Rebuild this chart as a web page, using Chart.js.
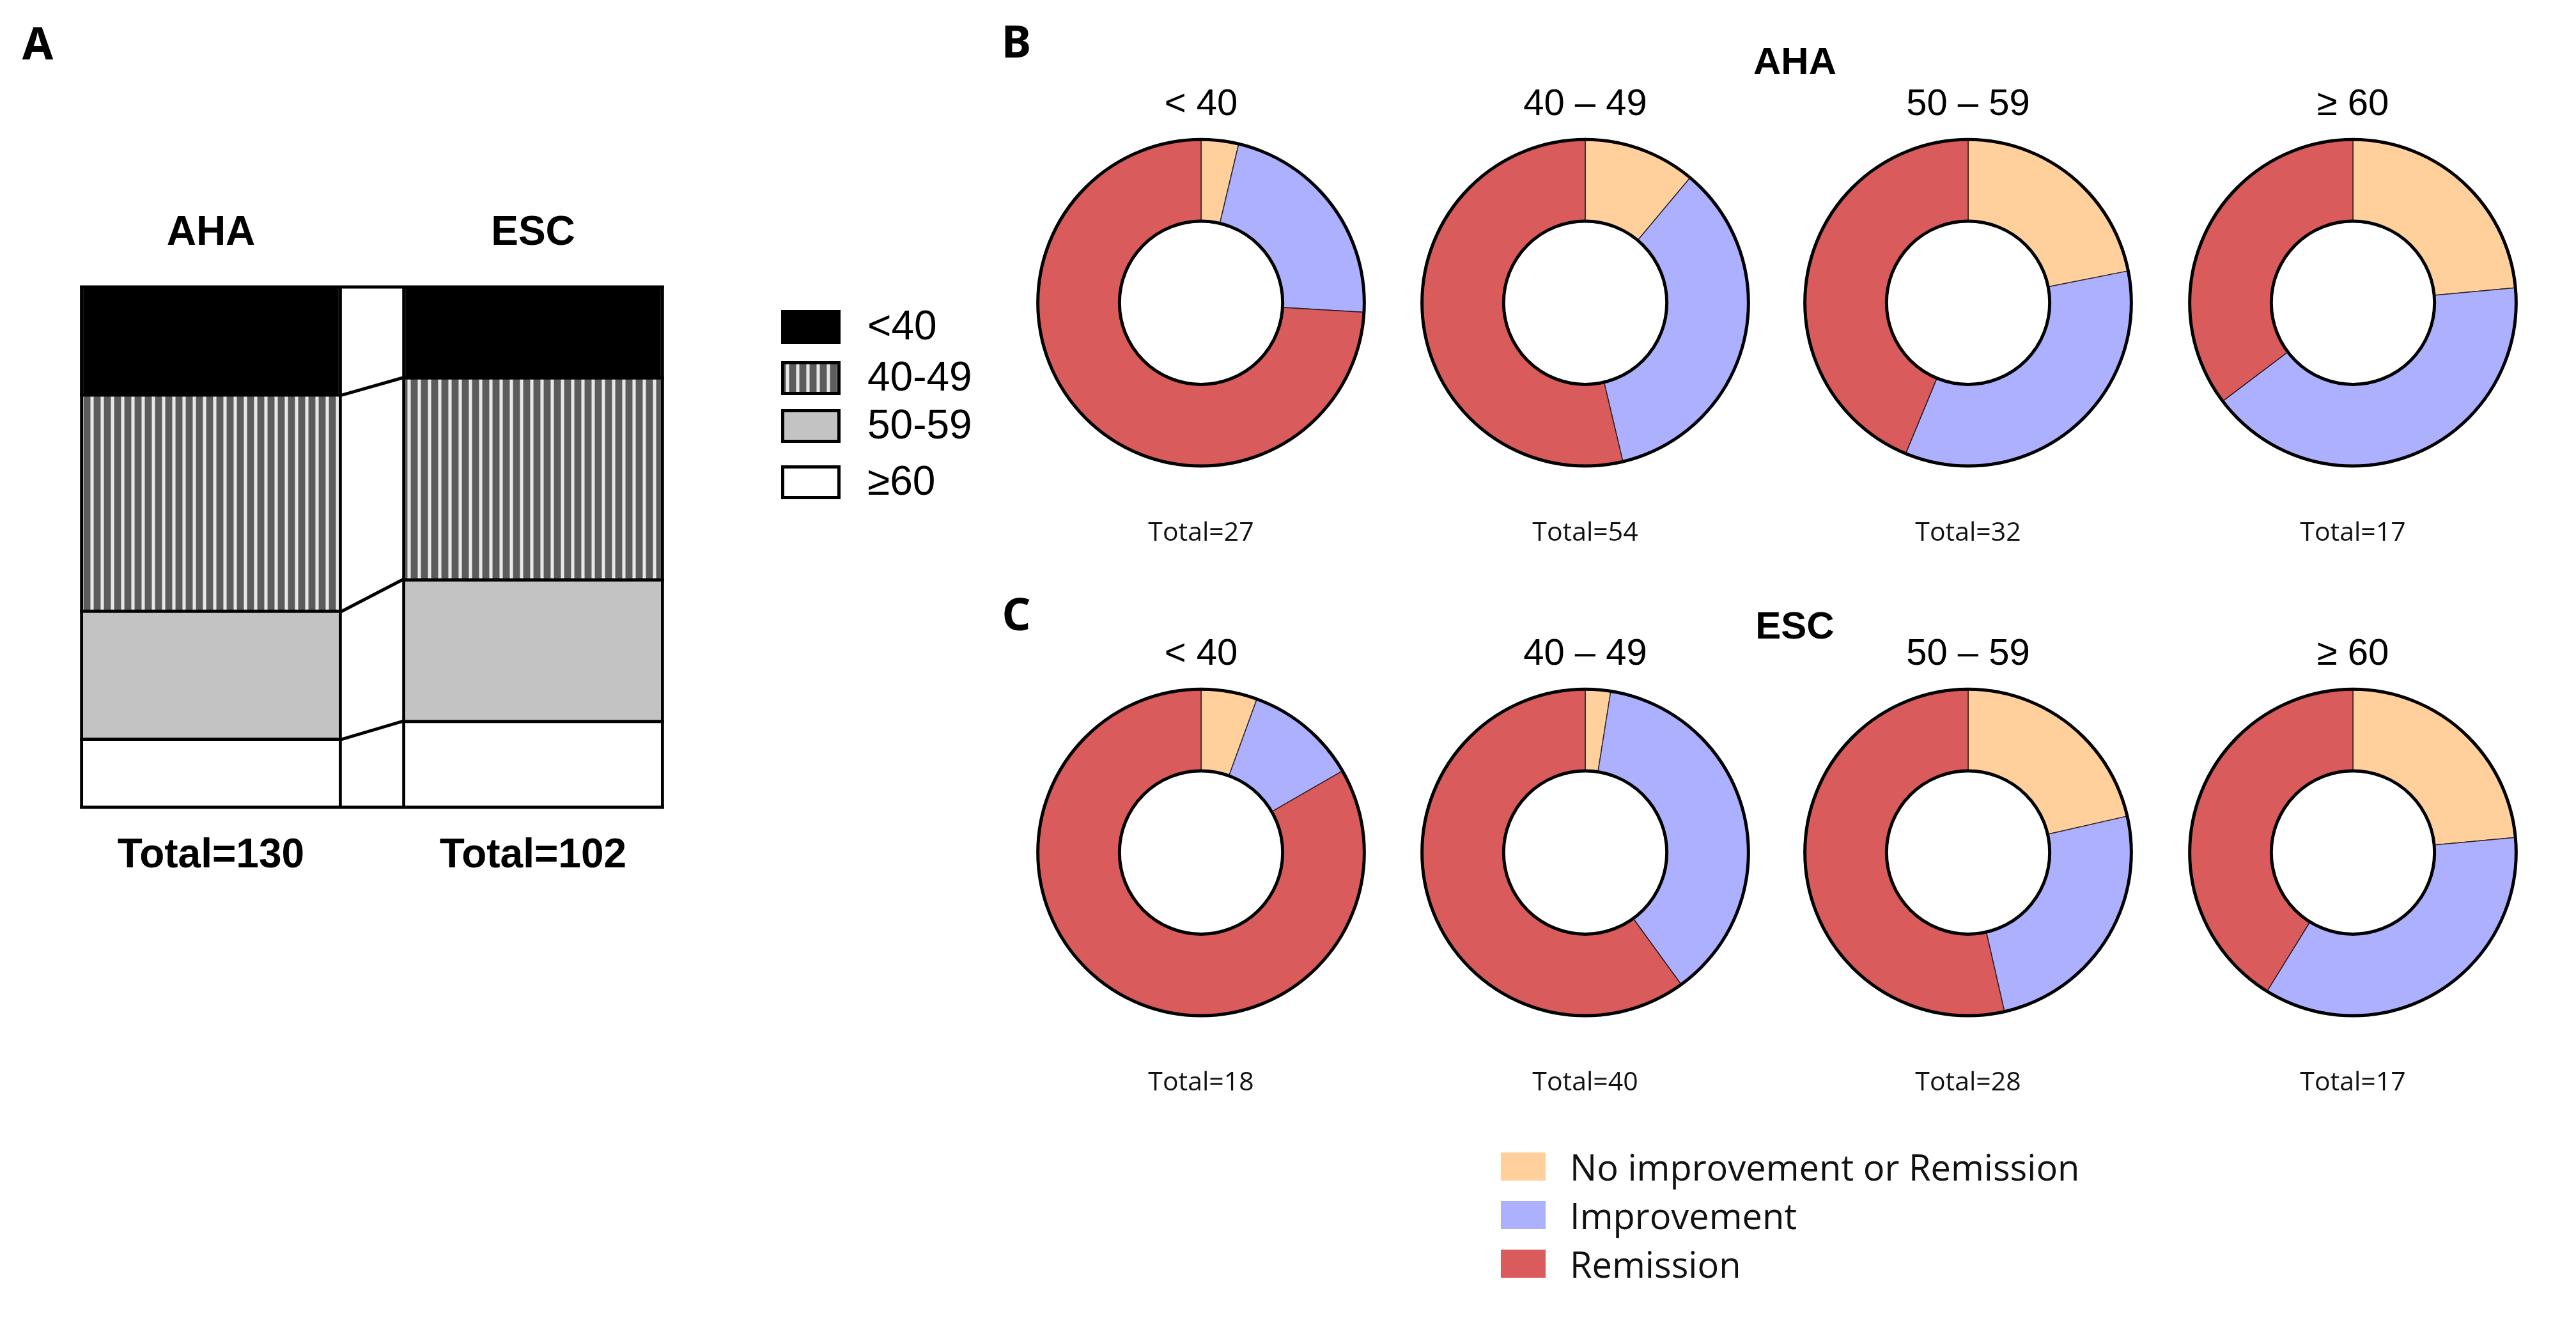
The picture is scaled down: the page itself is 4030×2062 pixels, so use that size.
<!DOCTYPE html>
<html>
<head>
<meta charset="utf-8">
<script src="https://cdn.jsdelivr.net/npm/chart.js@4.4.1/dist/chart.umd.min.js"></script>
<style>
  html, body { margin: 0; padding: 0; background: #fff; }
  #page { position: relative; width: 4030px; height: 2062px; background: #fff; overflow: hidden; }
  #page canvas { position: absolute; }
  .lbl { position: absolute; transform: translate(-50%, -50%); white-space: nowrap; color: #000; }
  .letter { font-family: 'Noto Sans'; font-weight: bold; font-size: 70px; }
  .head { font-family: 'Liberation Sans'; font-weight: bold; font-size: 60px; }
  #legend { position: absolute; left: 2348px; top: 1803px; font-family: 'Open Sans'; font-size: 56px; color: #111; }
  #legend .row { display: flex; align-items: center; height: 44px; margin-bottom: 32px; }
  #legend .sw { width: 70px; height: 44px; margin-right: 38px; }
  #legend span { line-height: 44px; }
</style>
</head>
<body>
<div id="page">
  <canvas id="panelA"></canvas>
  <canvas id="b0"></canvas><canvas id="b1"></canvas><canvas id="b2"></canvas><canvas id="b3"></canvas>
  <canvas id="c0"></canvas><canvas id="c1"></canvas><canvas id="c2"></canvas><canvas id="c3"></canvas>
  <div class="lbl letter" style="left:59px;top:66px">A</div>
  <div class="lbl letter" style="left:1590px;top:63px">B</div>
  <div class="lbl letter" style="left:1590px;top:959px">C</div>
  <div class="lbl head" style="left:2808px;top:95px">AHA</div>
  <div class="lbl head" style="left:2808px;top:978px">ESC</div>
  <div id="legend"></div>
</div>
<script>
// age groups
var groupTitles = ['< 40', '40 – 49', '50 – 59', '≥ 60'];
var groupShort = ['<40', '40-49', '50-59', '≥60'];

// panel A : patients per age group
var cohorts = ['AHA', 'ESC'];
var cohortTotals = [130, 102];
var ahaCounts = [27, 54, 32, 17];
var escCounts = [18, 40, 28, 17];

// outcome categories
var outcomes = ['No improvement or Remission', 'Improvement', 'Remission'];
var outcomeColors = ['#FFD09B', '#ACB0FF', '#D95B5B'];

// panel B (AHA) outcome counts per age group
var ahaNoImprovement = [1, 6, 7, 4];
var ahaImprovement = [6, 19, 11, 7];
var ahaRemission = [20, 29, 14, 6];

// panel C (ESC) outcome counts per age group
var escNoImprovement = [1, 1, 6, 4];
var escImprovement = [2, 15, 7, 6];
var escRemission = [15, 24, 15, 7];

function setupCanvas(id, left, top, w, h) {
  var c = document.getElementById(id);
  c.width = w; c.height = h;
  c.style.left = left + 'px'; c.style.top = top + 'px';
  c.style.width = w + 'px'; c.style.height = h + 'px';
  return c;
}

// vertical stripe fill for 40-49
function stripePattern() {
  var p = document.createElement('canvas');
  p.width = 16; p.height = 16;
  var g = p.getContext('2d');
  g.fillStyle = '#5c5c5c'; g.fillRect(0, 0, 16, 16);
  g.fillStyle = '#a8a8a8'; g.fillRect(5, 0, 1, 16); g.fillRect(10, 0, 1, 16);
  g.fillStyle = '#e8e8e8'; g.fillRect(6, 0, 4, 16);
  return document.getElementById('panelA').getContext('2d').createPattern(p, 'repeat');
}

// ---------- Panel A ----------
var canvasA = setupCanvas('panelA', 40, 300, 1560, 1100);
var groupFills = ['#000000', stripePattern(), '#c3c3c3', '#ffffff'];
var ahaSum = ahaCounts.reduce(function (a, b) { return a + b; }, 0);
var escSum = escCounts.reduce(function (a, b) { return a + b; }, 0);

var datasetsA = [];
for (var i = groupShort.length - 1; i >= 0; i--) {
  datasetsA.push({
    label: groupShort[i],
    data: [ahaCounts[i] / ahaSum * 100, escCounts[i] / escSum * 100],
    backgroundColor: groupFills[i],
    borderColor: '#000',
    borderWidth: { left: 5, right: 5, top: 0, bottom: 0 },
    borderSkipped: false,
    barPercentage: 0.813,
    categoryPercentage: 1
  });
}

var panelAExtras = {
  id: 'panelAExtras',
  afterDatasetsDraw: function (chart) {
    var ctx = chart.ctx;
    var n = chart.data.datasets.length;
    ctx.save();
    ctx.strokeStyle = '#000';
    ctx.lineWidth = 5;
    // segment boundaries, joined across the gap
    for (var d = -1; d < n; d++) {
      var meta = chart.getDatasetMeta(d < 0 ? 0 : d);
      var b0 = meta.data[0], b1 = meta.data[1];
      var y0 = d < 0 ? b0.base : b0.y;
      var y1 = d < 0 ? b1.base : b1.y;
      ctx.beginPath();
      ctx.moveTo(b0.x - b0.width / 2, y0);
      ctx.lineTo(b0.x + b0.width / 2, y0);
      ctx.lineTo(b1.x - b1.width / 2, y1);
      ctx.lineTo(b1.x + b1.width / 2, y1);
      ctx.stroke();
    }
    // cohort names and totals
    ctx.fillStyle = '#000';
    ctx.font = 'bold 64px "Liberation Sans"';
    ctx.textAlign = 'center';
    ctx.textBaseline = 'middle';
    var xs = chart.scales.x;
    chart.data.labels.forEach(function (lab, k) {
      var x = xs.getPixelForValue(k);
      ctx.fillText(lab, x, chart.chartArea.top - 84);
      ctx.fillText('Total=' + cohortTotals[k], x, chart.chartArea.bottom + 76);
    });
    // legend
    var rows = [185, 265, 340, 428];
    ctx.font = '64px "Liberation Sans"';
    ctx.textAlign = 'left';
    ctx.lineWidth = 5;
    for (var r = 0; r < n; r++) {
      var ds = chart.data.datasets[n - 1 - r];
      ctx.fillStyle = ds.backgroundColor;
      ctx.fillRect(1182, rows[r], 93, 53);
      ctx.strokeRect(1184.5, rows[r] + 2.5, 88, 48);
      ctx.fillStyle = '#000';
      ctx.fillText(ds.label, 1317, rows[r] + 28);
    }
    ctx.restore();
  }
};

new Chart(canvasA, {
  type: 'bar',
  data: { labels: cohorts, datasets: datasetsA },
  options: {
    responsive: false,
    animation: false,
    devicePixelRatio: 1,
    layout: { padding: { left: 38, right: 514, top: 149, bottom: 137 } },
    scales: {
      x: { stacked: true, display: false },
      y: { stacked: true, display: false, min: 0, max: 100 }
    },
    plugins: { legend: { display: false }, tooltip: { enabled: false } }
  },
  plugins: [panelAExtras]
});

// ---------- Panels B and C ----------
var ringOutline = {
  id: 'ringOutline',
  afterDatasetsDraw: function (chart) {
    var arc = chart.getDatasetMeta(0).data[0];
    var ctx = chart.ctx;
    ctx.save();
    ctx.strokeStyle = '#000';
    ctx.lineWidth = 5;
    ctx.beginPath(); ctx.arc(arc.x, arc.y, arc.outerRadius, 0, Math.PI * 2); ctx.stroke();
    ctx.beginPath(); ctx.arc(arc.x, arc.y, arc.innerRadius, 0, Math.PI * 2); ctx.stroke();
    ctx.restore();
  }
};

var colLefts = [1599, 2200, 2799, 3401];

function drawRing(id, left, top, title, total, values) {
  var c = setupCanvas(id, left, top, 560, 730);
  new Chart(c, {
    type: 'doughnut',
    data: {
      labels: outcomes,
      datasets: [{
        data: values,
        backgroundColor: outcomeColors,
        borderColor: 'rgba(30,20,20,0.85)',
        borderWidth: 1.5
      }]
    },
    options: {
      responsive: false,
      animation: false,
      devicePixelRatio: 1,
      cutout: '50%',
      plugins: {
        legend: { display: false },
        tooltip: { enabled: false },
        title: {
          display: true, text: title, color: '#000',
          font: { family: 'Liberation Sans', size: 58, weight: 'normal' },
          padding: { top: 0, bottom: 19 }
        },
        subtitle: {
          display: true, position: 'bottom', text: 'Total=' + total, color: '#111',
          font: { family: 'Open Sans', size: 41 },
          padding: { top: 80, bottom: 0 }
        }
      }
    },
    plugins: [ringOutline]
  });
}

for (var g = 0; g < groupTitles.length; g++) {
  drawRing('b' + g, colLefts[g], 129, groupTitles[g], ahaCounts[g],
    [ahaNoImprovement[g], ahaImprovement[g], ahaRemission[g]]);
  drawRing('c' + g, colLefts[g], 989, groupTitles[g], escCounts[g],
    [escNoImprovement[g], escImprovement[g], escRemission[g]]);
}

// shared outcome legend
var legend = document.getElementById('legend');
outcomes.forEach(function (name, k) {
  var row = document.createElement('div');
  row.className = 'row';
  var sw = document.createElement('div');
  sw.className = 'sw';
  sw.style.background = outcomeColors[k];
  var tx = document.createElement('span');
  tx.textContent = name;
  row.appendChild(sw);
  row.appendChild(tx);
  legend.appendChild(row);
});
</script>
</body>
</html>
